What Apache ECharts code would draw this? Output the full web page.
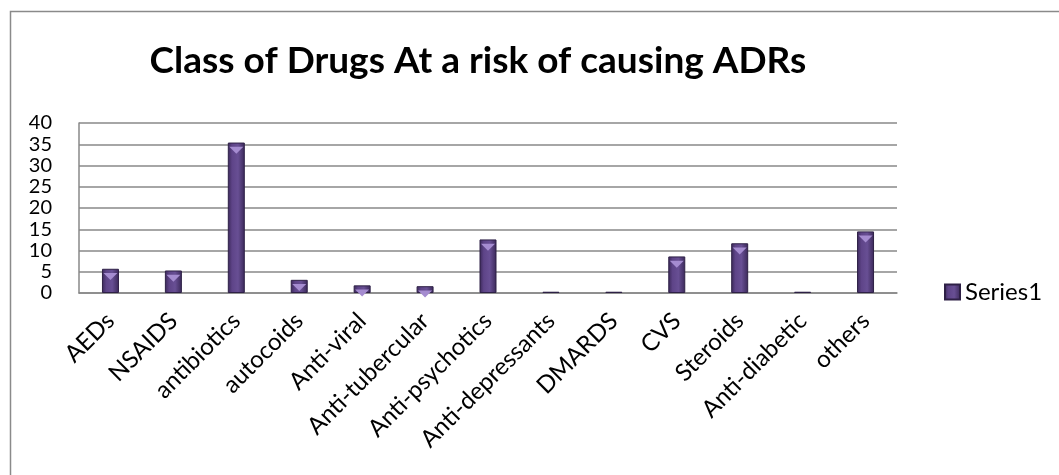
<!DOCTYPE html>
<html>
<head>
<meta charset="utf-8">
<script src="https://cdn.jsdelivr.net/npm/echarts@6/dist/echarts.min.js"></script>
<style>
  html, body { margin: 0; padding: 0; background: #fff; }
  #main { width: 1059px; height: 475px; }
</style>
</head>
<body>
<div id="main"></div>
<script>
// 数据
var categories = ['AEDs', 'NSAIDS', 'antibiotics', 'autocoids', 'Anti-viral', 'Anti-tubercular',
  'Anti-psychotics', 'Anti-depressants', 'DMARDS', 'CVS', 'Steroids', 'Anti-diabetic', 'others'];
var series1 = [5.7, 5.3, 35.4, 3.1, 1.8, 1.6, 12.6, 0.3, 0.3, 8.6, 11.7, 0.3, 14.5];
var yTicks = [0, 5, 10, 15, 20, 25, 30, 35, 40];

var myChart = echarts.init(document.getElementById('main'));

var barColor = new echarts.graphic.LinearGradient(0, 0, 1, 0, [
  {offset: 0, color: '#3a2858'},
  {offset: 0.25, color: '#5e4488'},
  {offset: 0.6, color: '#684f94'},
  {offset: 1, color: '#3a2858'}
]);

// 顶部小三角（数值很小时不画）
var capData = series1.map(function (v) {
  return {value: v, itemStyle: {opacity: v > 1 ? 1 : 0}};
});

myChart.setOption({
  animation: false,
  textStyle: {fontFamily: 'Lato'},
  graphic: [{
    type: 'rect',
    shape: {x: 10.5, y: 11.5, width: 1070, height: 480},
    style: {fill: 'none', stroke: '#8a8a8a', lineWidth: 1.5},
    silent: true
  }],
  title: {
    text: 'Class of Drugs At a risk of causing ADRs',
    left: 473,
    textAlign: 'center',
    top: 38,
    textStyle: {fontFamily: 'Lato', fontWeight: 'bold', fontSize: 37, color: '#000'}
  },
  legend: {
    data: [{name: 'Series1', icon: 'rect'}],
    left: 939,
    top: 275,
    itemWidth: 15,
    itemHeight: 15,
    itemGap: 6,
    textStyle: {fontFamily: 'Lato', fontSize: 24, color: '#000'}
  },
  grid: {left: 79, right: 162, top: 123, bottom: 182},
  xAxis: {
    type: 'category',
    data: categories,
    axisTick: {show: false},
    axisLine: {lineStyle: {color: '#888', width: 1.5}},
    axisLabel: {
      rotate: 45,
      interval: 0,
      margin: 24,
      color: '#000',
      fontFamily: 'Lato',
      fontSize: 24
    }
  },
  yAxis: {
    type: 'value',
    min: yTicks[0],
    max: yTicks[yTicks.length - 1],
    interval: 5,
    axisLine: {show: true, lineStyle: {color: '#888', width: 1.5}},
    axisTick: {show: false},
    splitLine: {lineStyle: {color: '#888', width: 1.5}},
    axisLabel: {
      color: '#000', fontFamily: 'Lato', fontSize: 20, margin: 27,
      showMinLabel: true, showMaxLabel: true
    }
  },
  series: [{
    name: 'Series1',
    type: 'bar',
    data: series1,
    barWidth: 17,
    itemStyle: {color: barColor, borderColor: '#2e2046', borderWidth: 1}
  }, {
    name: 'cap',
    type: 'pictorialBar',
    data: capData,
    symbol: 'triangle',
    symbolRotate: 180,
    symbolSize: [14, 7],
    symbolPosition: 'end',
    symbolOffset: [0, '60%'],
    itemStyle: {color: '#a58cd0'},
    z: 3,
    silent: true
  }]
});
</script>
</body>
</html>
